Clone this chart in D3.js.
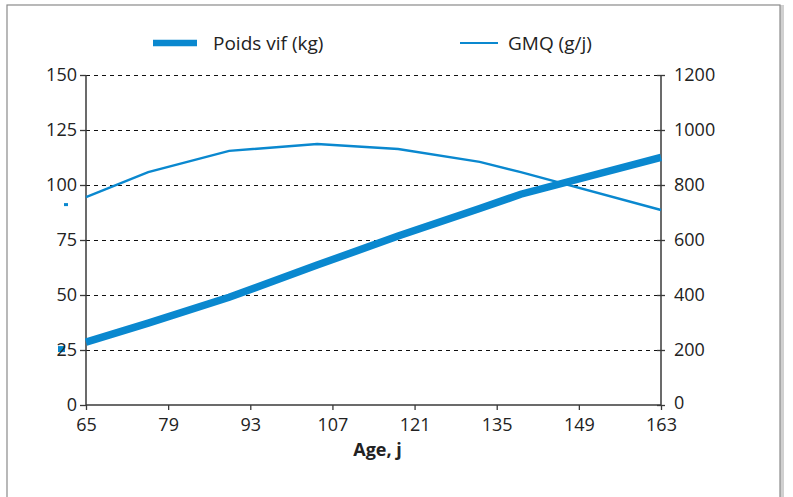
<!DOCTYPE html>
<html>
<head>
<meta charset="utf-8">
<script src="https://cdn.jsdelivr.net/npm/d3@7"></script>
<style>
  html, body { margin: 0; padding: 0; background: #fff; }
  svg { display: block; font-family: "Open Sans", "Noto Sans", sans-serif; }
</style>
</head>
<body>
<svg id="chart" width="793" height="497"></svg>
<script>
// ---- data ----
const ages = [65, 75.6, 89.4, 104.4, 118.2, 132.1, 139.1, 163];
const poidsVif = [28.6, 37.2, 49, 63.6, 76.8, 89.3, 95.8, 112.6];
const gmq = [756, 847, 924, 949, 931, 884, 847, 709];
const xTicks = [65, 79, 93, 107, 121, 135, 149, 163];
const leftTicks = [0, 25, 50, 75, 100, 125, 150];
const rightTicks = [0, 200, 400, 600, 800, 1000, 1200];
const seriesNames = ["Poids vif (kg)", "GMQ (g/j)"];
const xTitle = "Age, j";

const blue = "#0a88cf";
const axisCol = "#3a3a3a";

const svg = d3.select("#chart");
const W = 793, H = 497;
const m = { left: 86, right: 132, top: 75, bottom: 92 };

// frame
svg.append("rect").attr("x", 9).attr("y", 7).attr("width", 773).attr("height", 500)
  .attr("fill", "none").attr("stroke", "#d0d0d0").attr("stroke-width", 4);
svg.append("rect").attr("x", 7).attr("y", 5).attr("width", 773).attr("height", 500)
  .attr("fill", "#fff").attr("stroke", "#8a8a8a").attr("stroke-width", 1.2);

const x = d3.scaleLinear().domain([65, 163]).range([m.left, W - m.right]);
const yL = d3.scaleLinear().domain([0, 150]).range([H - m.bottom, m.top]);
const yR = d3.scaleLinear().domain([0, 1200]).range([H - m.bottom, m.top]);

// stray marker remnants at left of the axis (behind labels)
svg.append("rect").attr("x", m.left - 22).attr("y", yR(gmq[0]) + 6).attr("width", 4).attr("height", 3).attr("fill", blue);
svg.append("rect").attr("x", m.left - 28).attr("y", yL(poidsVif[0]) + 4).attr("width", 7).attr("height", 6).attr("fill", blue);

// grid
svg.append("g").selectAll("line").data(leftTicks.filter(d => d > 0)).join("line")
  .attr("x1", x.range()[0]).attr("x2", x.range()[1])
  .attr("y1", d => Math.round(yL(d)) + 0.5).attr("y2", d => Math.round(yL(d)) + 0.5)
  .attr("stroke", "#111").attr("stroke-width", 1).attr("stroke-dasharray", "4,4")
  .attr("shape-rendering", "crispEdges");

// axes
const fs = "18px";
const gL = svg.append("g").attr("transform", `translate(${m.left},0)`)
  .call(d3.axisLeft(yL).tickValues(leftTicks).tickSize(6).tickPadding(3));
const gR = svg.append("g").attr("transform", `translate(${W - m.right},0)`)
  .call(d3.axisRight(yR).tickValues(rightTicks).tickFormat(d3.format("d")).tickSize(4).tickPadding(9));
gR.selectAll(".tick line").attr("x1", -4);
const gX = svg.append("g").attr("transform", `translate(0,${H - m.bottom})`)
  .call(d3.axisBottom(x).tickValues(xTicks).tickSize(5).tickPadding(8));

[gL, gR, gX].forEach(g => {
  g.select(".domain").attr("stroke", axisCol).attr("stroke-width", 1.5);
  g.selectAll(".tick line").attr("stroke", axisCol).attr("stroke-width", 1.3);
  g.selectAll(".tick text").attr("fill", "#222").style("font-size", fs)
    .style("font-family", '"Open Sans", sans-serif');
});
gL.select(".domain").attr("d", `M0,${yL(0)}V${yL(150)}`);
gR.select(".domain").attr("d", `M0,${yR(0)}V${yR(1200)}`);
gX.select(".domain").attr("d", `M${x(65)},0H${x(163)}`);
gR.selectAll(".tick text").attr("dy", d => d === 0 ? "0.2em" : "0.32em");

svg.append("text").attr("x", (x(65) + x(163)) / 2 + 4).attr("y", 456)
  .attr("text-anchor", "middle").attr("font-weight", "bold").attr("font-size", 18)
  .attr("fill", "#222").text(xTitle);

// lines
const lineP = d3.line().x((d, i) => x(ages[i])).y(d => yL(d));
const lineG = d3.line().x((d, i) => x(ages[i])).y(d => yR(d));
svg.append("path").datum(gmq).attr("d", lineG).attr("fill", "none")
  .attr("stroke", blue).attr("stroke-width", 2.4);
svg.append("path").datum(poidsVif).attr("d", lineP).attr("fill", "none")
  .attr("stroke", blue).attr("stroke-width", 7.5);

// legend
const leg = svg.append("g");
leg.append("line").attr("x1", 153).attr("x2", 197).attr("y1", 43).attr("y2", 43)
  .attr("stroke", blue).attr("stroke-width", 6.5);
leg.append("text").attr("x", 213).attr("y", 50).attr("font-size", 19).attr("fill", "#222").text(seriesNames[0]);
leg.append("line").attr("x1", 460).attr("x2", 498).attr("y1", 43).attr("y2", 43)
  .attr("stroke", blue).attr("stroke-width", 2.2);
leg.append("text").attr("x", 508).attr("y", 50).attr("font-size", 19).attr("fill", "#222").text(seriesNames[1]);
</script>
</body>
</html>
